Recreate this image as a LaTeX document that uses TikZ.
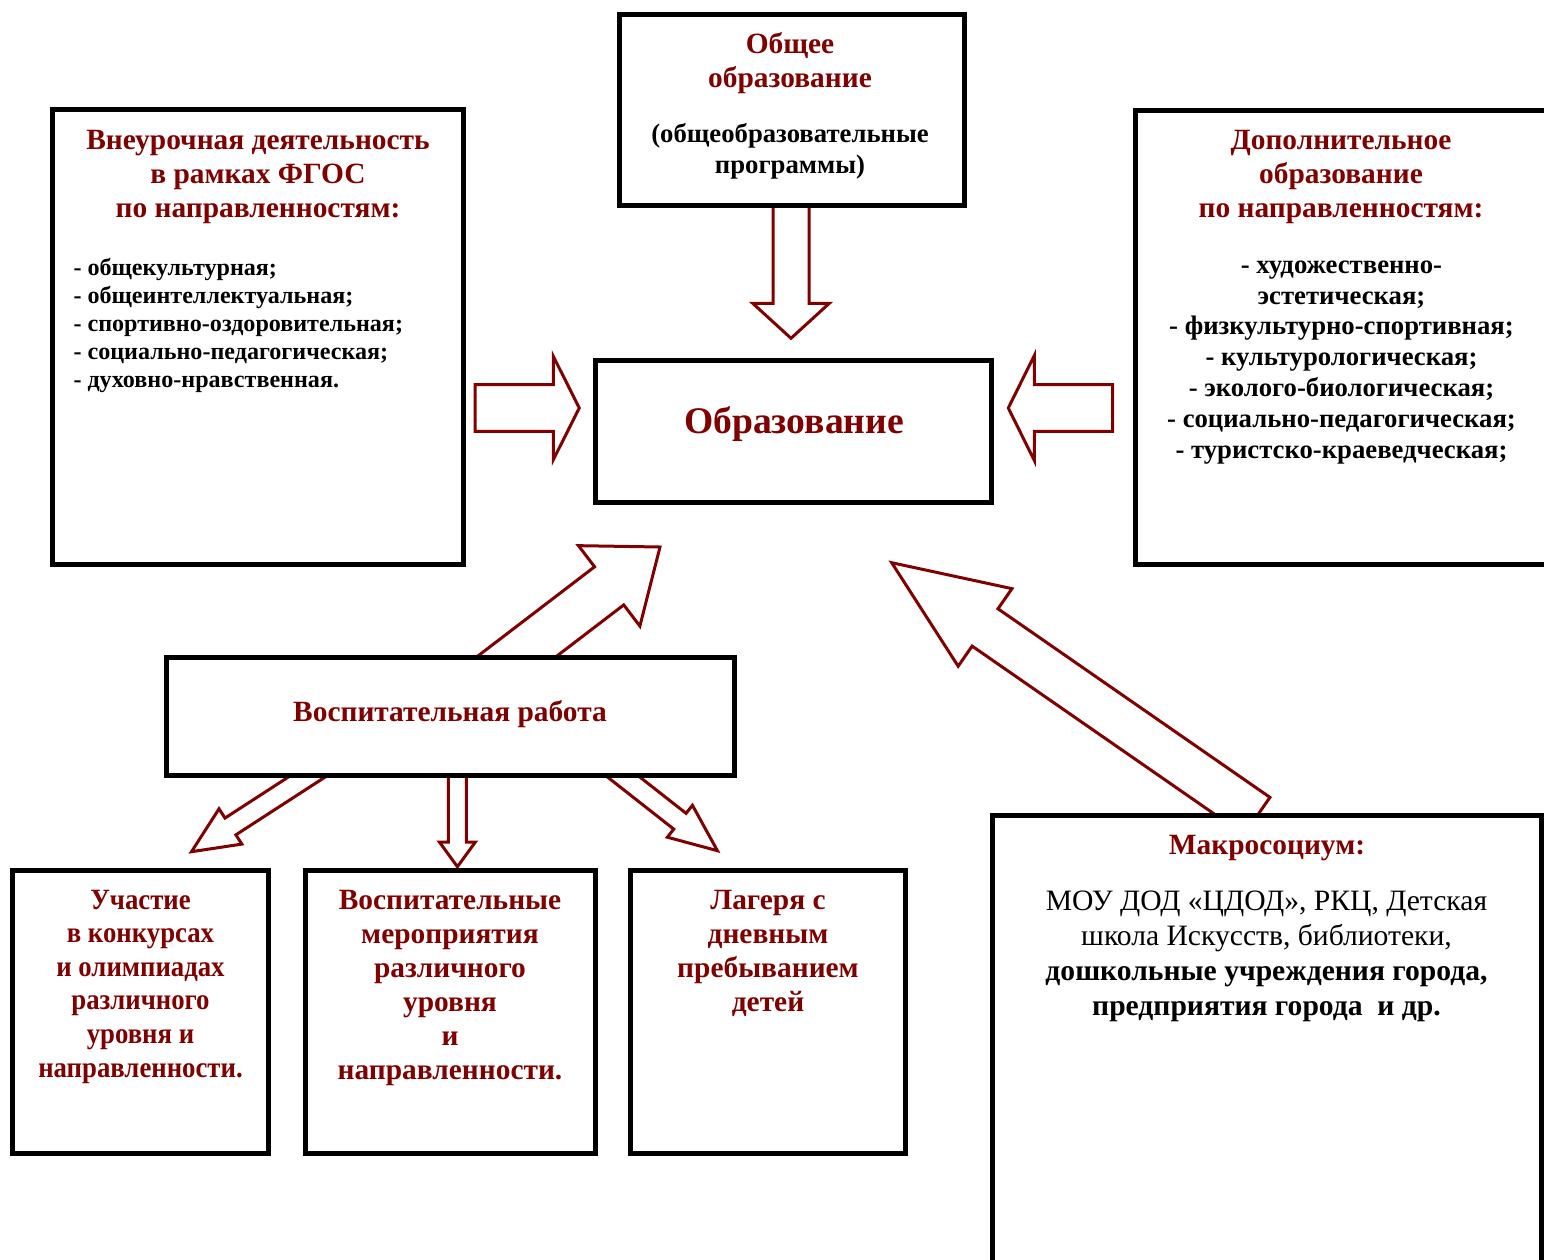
\documentclass[tikz,border=0pt]{standalone}
\usepackage{fontspec}
\setmainfont{Liberation Serif}
\newfontfamily\condserif[FakeStretch=0.91]{Liberation Serif}
\usetikzlibrary{calc}
\definecolor{dred}{RGB}{128,0,0}
\pgfdeclarelayer{paper}\pgfdeclarelayer{bg}\pgfsetlayers{paper,bg,main}
\newcommand\fsTitle{\fontsize{29.4}{34}\selectfont\bfseries}
\newcommand\fsListL{\fontsize{24.1}{27.9}\selectfont\bfseries}
\newcommand\fsListR{\fontsize{26.7}{30.83}\selectfont\bfseries}
\newcommand\fsBig{\fontsize{37.6}{44}\selectfont\bfseries}
\newcommand\fsBody{\fontsize{29.6}{34.7}\selectfont}
\newcommand\blockarrow[5]{%
  \coordinate (baH) at ($(#2)!#5!(#1)$);
  \draw[barrow] ($(#1)!#3!90:(#2)$) -- ($(baH)!#3!90:(#2)$) -- ($(baH)!#4!90:(#2)$) -- (#2)
    -- ($(baH)!#4!-90:(#2)$) -- ($(baH)!#3!-90:(#2)$) -- ($(#1)!#3!-90:(#2)$) -- cycle;}
\begin{document}
\begin{tikzpicture}[x=1pt,y=-1pt,
  box/.style={draw=black,line width=5pt,fill=white,inner sep=0pt,rectangle},
  barrow/.style={draw=dred,line width=3pt,fill=white,line join=miter},
  ttl/.style={text=dred,font=\fsTitle,align=center,inner sep=0pt},
  lst/.style={text=black,inner sep=0pt}]
\useasboundingbox (0,0) rectangle (1544,1260);
\begin{pgfonlayer}{paper}
\fill[white] (0,0) rectangle (1544,1260);
\end{pgfonlayer}
% boxes
\node[box,minimum width=411pt,minimum height=454pt] (vneur) at (258,337) {};
\node[box,minimum width=345pt,minimum height=191pt] (obsh) at (791.5,110) {};
\node[box,minimum width=396pt,minimum height=142pt] (obr) at (793.5,431.5) {};
\node[box,minimum width=435pt,minimum height=453.5pt] (dop) at (1352.5,337.25) {};
\node[box,minimum width=567.3pt,minimum height=118pt] (vr) at (450.35,716) {};
\node[box,minimum width=256pt,minimum height=283pt] (uch) at (140.5,1011.5) {};
\node[box,minimum width=290pt,minimum height=283pt] (mer) at (450.5,1011.5) {};
\node[box,minimum width=275pt,minimum height=283pt] (lag) at (768,1011.5) {};
\node[box,minimum width=549pt,minimum height=485pt] (mak) at (1266.5,1057.5) {};
% connector end points
\coordinate (s1) at ($(obsh.south)+(-0.5,-6)$);
\coordinate (e1) at (791,338.3);
\coordinate (s2) at (475,408);
\coordinate (e2) at (579.3,408);
\coordinate (s3) at (1112.7,408);
\coordinate (e3) at (1008.3,408);
\coordinate (s4) at (486,680);
\coordinate (e4) at (660,547);
\coordinate (s5) at (333,760);
\coordinate (e5) at (191.5,851.7);
\coordinate (s6) at (457.4,760);
\coordinate (e6) at (457.4,866.7);
\coordinate (s7) at (602,760);
\coordinate (e7) at (717.4,850.7);
\coordinate (s8) at (1257,816);
\coordinate (e8) at (891.7,562.7);
\begin{pgfonlayer}{bg}
\blockarrow{s1}{e1}{18pt}{38.3pt}{35pt}
\blockarrow{s2}{e2}{23.4pt}{51.7pt}{26pt}
\blockarrow{s3}{e3}{23.4pt}{52.5pt}{26pt}
\blockarrow{s4}{e4}{24pt}{50.6pt}{64pt}
\blockarrow{s5}{e5}{10pt}{21pt}{46.4pt}
\blockarrow{s6}{e6}{9pt}{18pt}{24.7pt}
\blockarrow{s7}{e7}{10pt}{20.3pt}{47.7pt}
\blockarrow{s8}{e8}{22.7pt}{47.2pt}{113.6pt}
\end{pgfonlayer}
% texts (anchor base = baseline of the last line)
\node[ttl,anchor=base] (tvneur) at (258,218) {Внеурочная деятельность\\в рамках ФГОС\\по направленностям:};
\node[lst,anchor=base west,align=left,font=\fsListL] (lvneur) at (73.3,387.3) {- общекультурная;\\- общеинтеллектуальная;\\- спортивно-оздоровительная;\\- социально-педагогическая;\\- духовно-нравственная.};
\node[ttl,anchor=base,font=\fontsize{29.4}{34.4}\selectfont\bfseries] (tobsh) at (790,87.7) {Общее\\образование};
\node[lst,anchor=base,align=center,font=\fontsize{26.7}{30.5}\selectfont\bfseries] (lobsh) at (790,173.3) {(общеобразовательные\\программы)};
\node[ttl,anchor=base,font=\fsBig] (tobr) at (794,433) {Образование};
\node[ttl,anchor=base,font=\fontsize{29.4}{33.65}\selectfont\bfseries] (tdop) at (1341,217.3) {Дополнительное\\образование\\по направленностям:};
\node[lst,anchor=base,align=center,font=\fsListR] (ldop) at (1341.5,458.3) {- художественно-\\эстетическая;\\- физкультурно-спортивная;\\- культурологическая;\\- эколого-биологическая;\\- социально-педагогическая;\\- туристско-краеведческая;};
\node[ttl,anchor=base] (tvr) at (450,721) {Воспитательная работа};
\node[ttl,anchor=base,font=\condserif\fontsize{29.4}{33.6}\selectfont\bfseries] (tuch) at (140.5,1077) {Участие\\в конкурсах\\и олимпиадах\\различного\\уровня и\\направленности.};
\node[ttl,anchor=base,font=\fontsize{29.4}{34}\selectfont\bfseries] (tmer) at (450,1079.5) {Воспитательные\\мероприятия\\различного\\уровня\\и\\направленности.};
\node[ttl,anchor=base,font=\fontsize{29.4}{34}\selectfont\bfseries] (tlag) at (768,1011.3) {Лагеря с\\дневным\\пребыванием\\детей};
\node[ttl,anchor=base] (tmak) at (1267,854.3) {Макросоциум:};
\node[lst,anchor=base,align=center,font=\fsBody] (lmak) at (1266.5,1015) {МОУ ДОД «ЦДОД», РКЦ, Детская\\школа Искусств, библиотеки,\\\textbf{дошкольные учреждения города,}\\\textbf{предприятия города\ \ и др.}};
\end{tikzpicture}
\end{document}
